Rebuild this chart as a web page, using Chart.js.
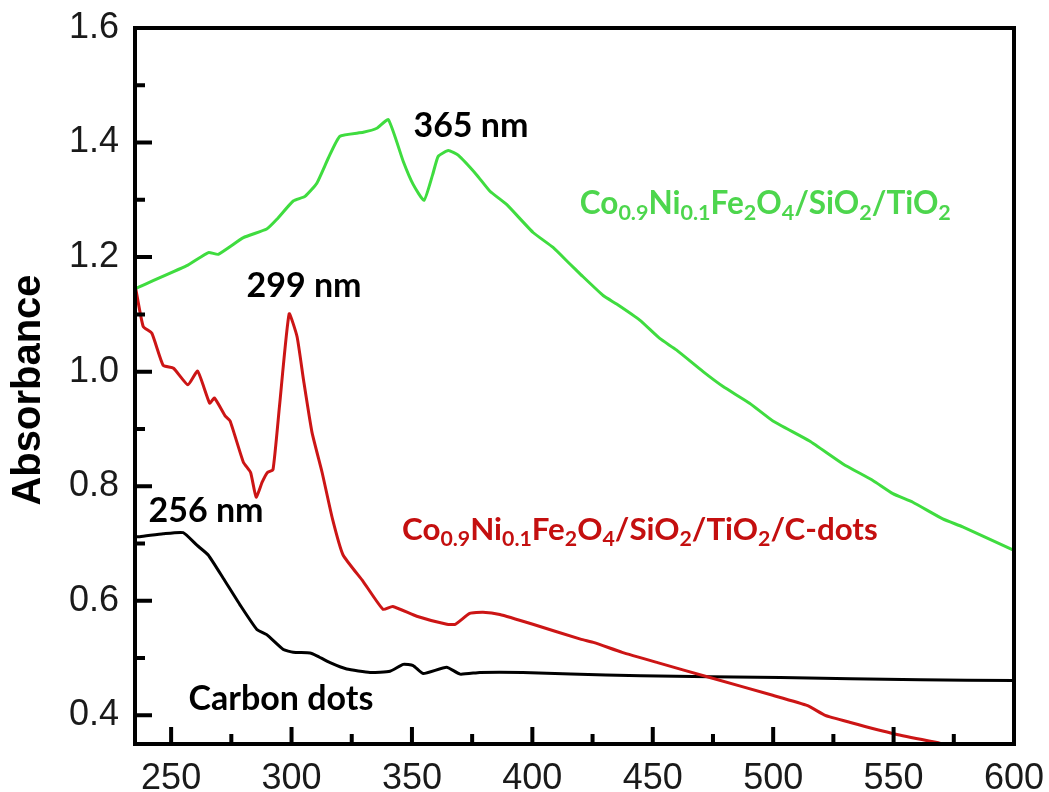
<!DOCTYPE html>
<html>
<head>
<meta charset="utf-8">
<script src="https://cdn.jsdelivr.net/npm/chart.js@4/dist/chart.umd.min.js"></script>
<style>
  html, body { margin: 0; padding: 0; background: #fff; }
  #wrap { width: 1049px; height: 792px; }
</style>
</head>
<body>
<div id="wrap"><canvas id="c" width="1049" height="792"></canvas></div>
<script>
// ---- data ----
const greenWavelength = [235, 256.5, 265.5, 269.6, 280, 289.7, 293.9, 300.7, 305.6, 310.5, 315.3, 320.1, 329.8, 335.4, 340.2, 346.4, 350.5, 355, 358.6, 360.9, 365.1, 369.2, 376.8, 382.4, 389.3, 400.3, 408.6, 415.6, 420, 429.4, 435, 444.6, 452.9, 459.8, 470.9, 479.2, 490.2, 499.9, 515.1, 529, 541.4, 549.7, 558, 570.4, 578.7, 600];
const greenAbsorbance = [1.145, 1.185, 1.208, 1.205, 1.234, 1.249, 1.266, 1.298, 1.306, 1.329, 1.373, 1.411, 1.418, 1.425, 1.440, 1.367, 1.327, 1.299, 1.344, 1.376, 1.386, 1.378, 1.344, 1.315, 1.292, 1.243, 1.217, 1.188, 1.170, 1.133, 1.118, 1.090, 1.058, 1.038, 1.000, 0.974, 0.945, 0.914, 0.879, 0.839, 0.810, 0.787, 0.772, 0.743, 0.729, 0.688];

const redWavelength = [235.3, 238.4, 242, 246.7, 251, 257, 261, 266, 268, 272.4, 274.5, 280, 283, 285.3, 287.8, 290, 292.3, 295, 299, 302.3, 305, 308.5, 312.7, 317, 321.4, 329.7, 338, 342, 352, 364.5, 368, 374, 379.5, 386.5, 400.2, 420, 425.7, 437.3, 452, 473.7, 499.8, 514.3, 521.6, 531.7, 550, 569.5, 575];
const redAbsorbance = [1.145, 1.079, 1.067, 1.011, 1.006, 0.977, 1.001, 0.945, 0.954, 0.923, 0.914, 0.842, 0.824, 0.781, 0.807, 0.824, 0.829, 0.940, 1.101, 1.061, 0.985, 0.894, 0.824, 0.743, 0.680, 0.634, 0.585, 0.590, 0.573, 0.559, 0.559, 0.578, 0.580, 0.576, 0.559, 0.533, 0.527, 0.510, 0.492, 0.466, 0.435, 0.417, 0.400, 0.388, 0.368, 0.351, 0.345];

const blackWavelength = [235, 237, 246.7, 255, 260.7, 265.4, 271.7, 278.6, 285.6, 289.7, 296.6, 300.7, 307.7, 310.5, 316, 322.9, 332.6, 340.9, 346.4, 350.5, 354.7, 364.4, 370, 378.2, 396, 416, 445, 503, 561, 600];
const blackAbsorbance = [0.712, 0.712, 0.717, 0.719, 0.697, 0.680, 0.639, 0.593, 0.550, 0.541, 0.515, 0.510, 0.509, 0.504, 0.492, 0.481, 0.475, 0.477, 0.489, 0.487, 0.473, 0.484, 0.472, 0.475, 0.475, 0.472, 0.469, 0.466, 0.462, 0.461];

const xTicks = [250, 300, 350, 400, 450, 500, 550, 600];
const xMinorTicks = [275, 325, 375, 425, 475, 525, 575];
const yTicks = [0.4, 0.6, 0.8, 1.0, 1.2, 1.4, 1.6];
const yMinorTicks = [0.5, 0.7, 0.9, 1.1, 1.3, 1.5];

const yTitle = "Absorbance";
// annotation texts with their anchor in data coordinates
const peakLabels = [
  { text: "365 nm", x: 374.5, y: 1.429 },
  { text: "299 nm", x: 305.2, y: 1.150 },
  { text: "256 nm", x: 264.5, y: 0.757 },
  { text: "Carbon dots", x: 295.6, y: 0.428 }
];
const greenName = [["Co",0],["0.9",1],["Ni",0],["0.1",1],["Fe",0],["2",1],["O",0],["4",1],["/SiO",0],["2",1],["/TiO",0],["2",1]];
const redName = [["Co",0],["0.9",1],["Ni",0],["0.1",1],["Fe",0],["2",1],["O",0],["4",1],["/SiO",0],["2",1],["/TiO",0],["2",1],["/C-dots",0]];
const greenNameAt = { x: 419.7, y: 1.295 };
const redNameAt = { x: 345.9, y: 0.7255 };

function pts(xs, ys) { return xs.map((x, i) => ({ x: x, y: ys[i] })); }

const GREEN = '#3fdc3f';
const RED = '#cc1515';
const LABEL_FONT = 'Lato, "Open Sans", sans-serif';

function drawRich(ctx, segs, x, y, mainSize, subSize, color, family) {
  ctx.save();
  ctx.fillStyle = color;
  ctx.textBaseline = 'alphabetic';
  ctx.textAlign = 'left';
  let cx = x;
  const base = y + mainSize * 0.35;
  for (const [t, sub] of segs) {
    ctx.font = 'bold ' + (sub ? subSize : mainSize) + 'px ' + family;
    ctx.fillText(t, cx, sub ? base + mainSize * 0.2 : base);
    cx += ctx.measureText(t).width;
  }
  ctx.restore();
}

const framePlugin = {
  id: 'frame',
  afterDraw(chart) {
    const ctx = chart.ctx;
    const a = chart.chartArea;
    const xs = chart.scales.x, ys = chart.scales.y;
    ctx.save();
    ctx.strokeStyle = '#000';
    ctx.lineWidth = 4;
    ctx.lineCap = 'butt';
    ctx.strokeRect(a.left, a.top, a.right - a.left, a.bottom - a.top);
    // inward ticks
    ctx.lineWidth = 4;
    ctx.beginPath();
    for (const v of xTicks) { const p = xs.getPixelForValue(v); ctx.moveTo(p, a.bottom); ctx.lineTo(p, a.bottom - 17); }
    for (const v of xMinorTicks) { const p = xs.getPixelForValue(v); ctx.moveTo(p, a.bottom); ctx.lineTo(p, a.bottom - 10); }
    for (const v of yTicks) { const p = ys.getPixelForValue(v); ctx.moveTo(a.left, p); ctx.lineTo(a.left + 17, p); }
    for (const v of yMinorTicks) { const p = ys.getPixelForValue(v); ctx.moveTo(a.left, p); ctx.lineTo(a.left + 10, p); }
    ctx.stroke();

    // peak labels
    ctx.fillStyle = '#000';
    ctx.textAlign = 'center';
    ctx.textBaseline = 'middle';
    for (const l of peakLabels) {
      ctx.font = 'bold 34px ' + LABEL_FONT;
      ctx.fillText(l.text, xs.getPixelForValue(l.x), ys.getPixelForValue(l.y));
    }
    // series names
    drawRich(ctx, greenName, xs.getPixelForValue(greenNameAt.x), ys.getPixelForValue(greenNameAt.y), 31.5, 21.5, '#4dd64d', LABEL_FONT);
    drawRich(ctx, redName, xs.getPixelForValue(redNameAt.x), ys.getPixelForValue(redNameAt.y), 31.3, 21.3, '#c40f0f', LABEL_FONT);

    // y title
    ctx.save();
    ctx.translate(29, (a.top + a.bottom) / 2 + 4);
    ctx.rotate(-Math.PI / 2);
    ctx.font = 'bold 40px "Liberation Sans", Arial, sans-serif';
    ctx.fillStyle = '#000';
    ctx.textAlign = 'center';
    ctx.textBaseline = 'middle';
    ctx.fillText(yTitle, 0, 0);
    ctx.restore();
    ctx.restore();
  }
};

new Chart(document.getElementById('c'), {
  type: 'scatter',
  data: {
    datasets: [
      { data: pts(greenWavelength, greenAbsorbance), borderColor: GREEN, borderWidth: 3, borderJoinStyle: 'round', showLine: true, pointRadius: 0, tension: 0.15 },
      { data: pts(redWavelength, redAbsorbance), borderColor: RED, borderWidth: 3, borderJoinStyle: 'round', showLine: true, pointRadius: 0, tension: 0.15 },
      { data: pts(blackWavelength, blackAbsorbance), borderColor: '#000', borderWidth: 3, borderJoinStyle: 'round', showLine: true, pointRadius: 0, tension: 0.15 }
    ]
  },
  options: {
    responsive: false,
    animation: false,
    events: [],
    layout: { padding: { top: 28, right: 35, left: 0, bottom: 0 } },
    plugins: { legend: { display: false }, tooltip: { enabled: false } },
    scales: {
      x: {
        type: 'linear', min: 235, max: 600,
        grid: { display: false, drawTicks: false },
        border: { display: false },
        afterBuildTicks(s) { s.ticks = xTicks.map(v => ({ value: v })); },
        afterFit(s) { s.height = 48; s.paddingLeft = 0; s.paddingRight = 0; },
        ticks: { color: '#1a1a1a', padding: 13, maxRotation: 0, autoSkip: false,
          font: { family: '"Liberation Sans", Arial, sans-serif', size: 36 } }
      },
      y: {
        type: 'linear', min: 0.35, max: 1.6,
        grid: { display: false, drawTicks: false },
        border: { display: false },
        afterBuildTicks(s) { s.ticks = yTicks.map(v => ({ value: v })); },
        afterFit(s) { s.width = 135; s.paddingTop = 0; s.paddingBottom = 0; },
        ticks: { color: '#1a1a1a', padding: 16, autoSkip: false,
          callback: v => Number(v).toFixed(1),
          font: { family: '"Liberation Sans", Arial, sans-serif', size: 36 } }
      }
    }
  },
  plugins: [framePlugin]
});
</script>
</body>
</html>
